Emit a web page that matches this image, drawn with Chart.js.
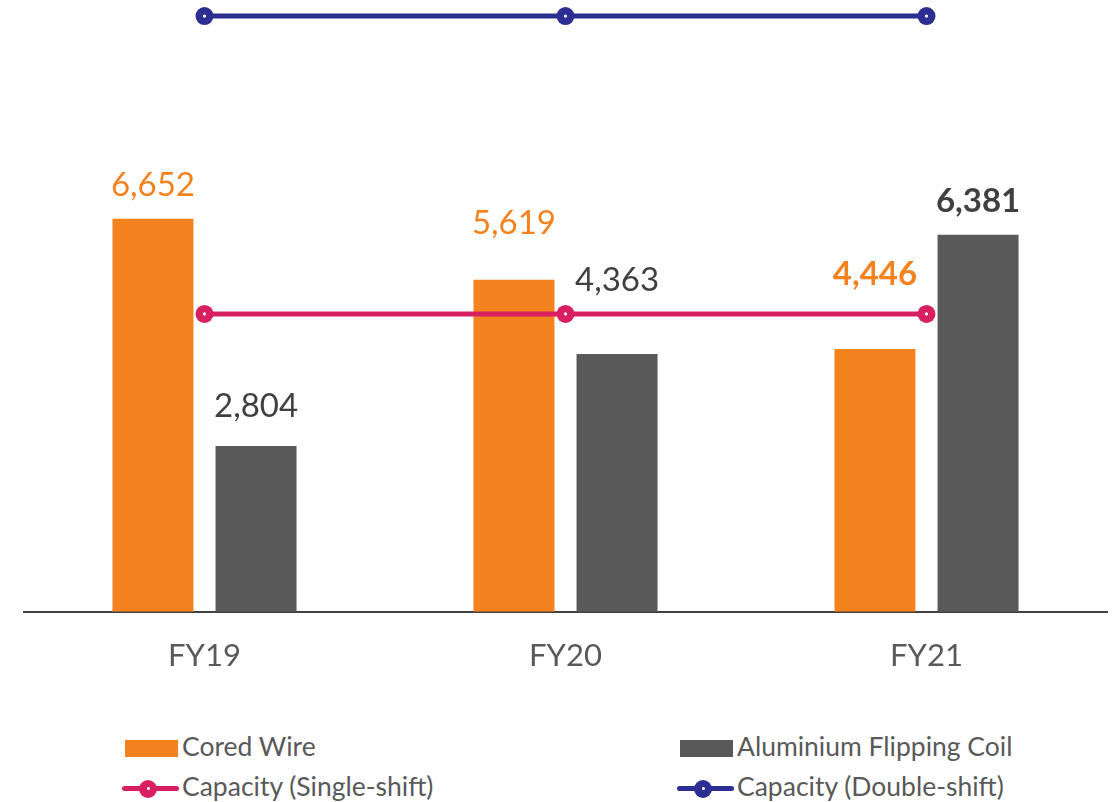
<!DOCTYPE html>
<html>
<head>
<meta charset="utf-8">
<script src="https://cdn.jsdelivr.net/npm/chart.js@4"></script>
<style>
  html, body { margin: 0; padding: 0; background: #fff; }
  body { width: 1117px; height: 802px; position: relative; overflow: hidden; font-family: Lato, "Open Sans", sans-serif; }
  #wrap { position: absolute; left: 0; top: -13px; width: 1117px; height: 740px; }
  .leg { position: absolute; font-size: 26.5px; color: #595959; line-height: 30px; white-space: nowrap; }
  .sw { position: absolute; width: 53px; height: 17px; }
  .ln { position: absolute; width: 57px; height: 5px; border-radius: 3px; }
  .ln i { position: absolute; left: 17px; top: -6.5px; width: 18px; height: 18px; border-radius: 50%; }
  .ln i b { position: absolute; left: 7.5px; top: 7.5px; width: 3px; height: 3px; border-radius: 50%; background: #fff; }
</style>
</head>
<body>
<div id="wrap"><canvas id="chart"></canvas></div>

<div class="sw" style="left:125px;top:740px;background:#F4821F"></div>
<div class="leg" style="left:182px;top:731px">Cored Wire</div>
<div class="sw" style="left:680px;top:740px;background:#595959"></div>
<div class="leg" style="left:737px;top:731px">Aluminium Flipping Coil</div>
<div class="ln" style="left:122px;top:786px;background:#D81F5F"><i style="background:#D81F5F"><b></b></i></div>
<div class="leg" style="left:182px;top:771px">Capacity (Single-shift)</div>
<div class="ln" style="left:677px;top:786px;background:#2B2F91"><i style="background:#2B2F91"><b></b></i></div>
<div class="leg" style="left:737px;top:771px">Capacity (Double-shift)</div>

<script>
// chart data
const years = ["FY19", "FY20", "FY21"];
const coredWire = [6652, 5619, 4446];
const flippingCoil = [2804, 4363, 6381];
const capacitySingle = [5040, 5040, 5040];
const capacityDouble = [10080, 10080, 10080];

// value labels above the bars (lift in px, per dataset / per bar)
const valueLabels = {
    id: "valueLabels",
    afterDatasetsDraw(chart, args, opts) {
        const ctx = chart.ctx;
        ctx.save();
        ctx.textAlign = "center";
        ctx.textBaseline = "alphabetic";
        opts.datasets.forEach(function(cfg) {
            const meta = chart.getDatasetMeta(cfg.index);
            meta.data.forEach(function(bar, i) {
                const v = chart.data.datasets[cfg.index].data[i];
                ctx.font = (cfg.bold[i] ? "bold " : "") + "33px Lato, sans-serif";
                ctx.fillStyle = cfg.color;
                ctx.fillText(v.toLocaleString("en-US"), bar.x, bar.y - cfg.lift[i]);
            });
        });
        ctx.restore();
    }
};

// small white dot in the middle of each line marker
const markerDots = {
    id: "markerDots",
    afterDatasetsDraw(chart) {
        const ctx = chart.ctx;
        ctx.save();
        ctx.fillStyle = "#fff";
        chart.data.datasets.forEach(function(ds, d) {
            if (ds.type !== "line") return;
            chart.getDatasetMeta(d).data.forEach(function(pt) {
                ctx.beginPath();
                ctx.arc(pt.x, pt.y, 1.6, 0, Math.PI * 2);
                ctx.fill();
            });
        });
        ctx.restore();
    }
};

const ctx = document.getElementById("chart").getContext("2d");

const lineStyle = function(color) {
    return {
        borderColor: color,
        backgroundColor: color,
        pointBorderColor: color,
        pointBackgroundColor: color,
        borderWidth: 5,
        pointRadius: 9,
        pointBorderWidth: 0,
        pointHoverRadius: 9,
        fill: false,
        clip: false,
        order: 0
    };
};

const chart = new Chart(ctx, {
    type: "bar",
    data: {
        labels: years,
        datasets: [
            Object.assign({ type: "line", label: "Capacity (Single-shift)", data: capacitySingle }, lineStyle("#D81F5F")),
            Object.assign({ type: "line", label: "Capacity (Double-shift)", data: capacityDouble }, lineStyle("#2B2F91")),
            {
                label: "Cored Wire",
                data: coredWire,
                backgroundColor: "#F4821F",
                categoryPercentage: 0.571,
                barPercentage: 0.786,
                order: 1
            },
            {
                label: "Aluminium Flipping Coil",
                data: flippingCoil,
                backgroundColor: "#595959",
                categoryPercentage: 0.571,
                barPercentage: 0.786,
                order: 1
            }
        ]
    },
    options: {
        responsive: true,
        maintainAspectRatio: false,
        animation: false,
        layout: { padding: { left: 24, right: 10, top: 0, bottom: 26 } },
        plugins: {
            legend: { display: false },
            tooltip: { enabled: false },
            valueLabels: {
                datasets: [
                    { index: 2, color: "#F4821F", lift: [23, 46, 64], bold: [false, false, true] },
                    { index: 3, color: "#404040", lift: [29, 63, 23], bold: [false, false, true] }
                ]
            }
        },
        scales: {
            x: {
                grid: { display: false, drawTicks: false },
                border: { display: true, color: "#404040", width: 2 },
                ticks: { color: "#595959", font: { family: "Lato", size: 31 }, padding: 26 }
            },
            y: {
                display: false,
                min: 0,
                max: 10420
            }
        }
    },
    plugins: [valueLabels, markerDots]
});
</script>
</body>
</html>
